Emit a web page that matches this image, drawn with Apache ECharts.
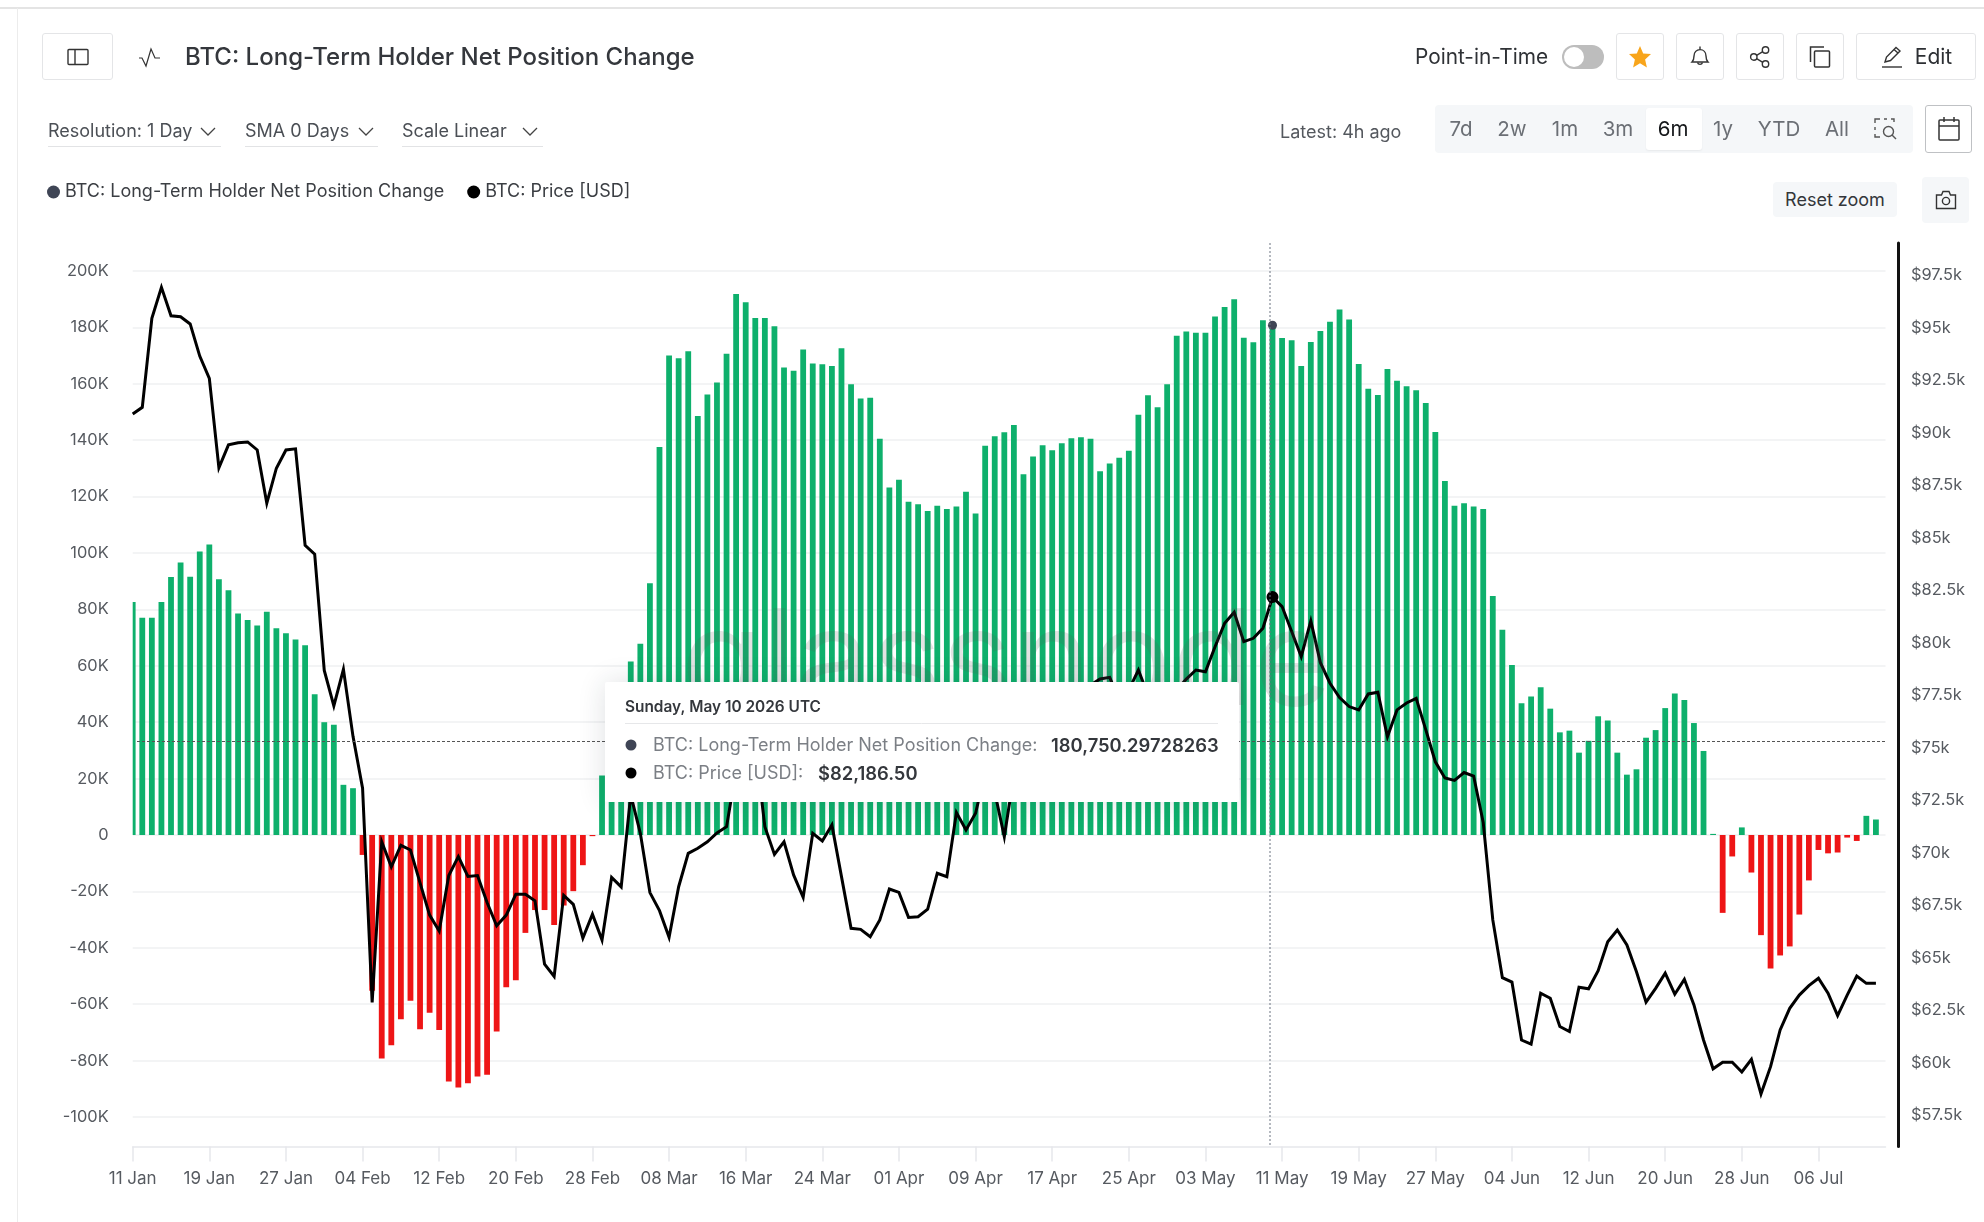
<!DOCTYPE html>
<html>
<head>
<meta charset="utf-8">
<title>BTC: Long-Term Holder Net Position Change</title>
<script src="https://cdn.jsdelivr.net/npm/echarts@6/dist/echarts.min.js"></script>
<style>
  html, body { margin: 0; padding: 0; background: #fff; width: 1984px; height: 1222px; overflow: hidden; }
  body { font-family: Inter, "Noto Sans", sans-serif; color: #333; position: relative; }
  #chart { position: absolute; left: 0; top: 0; width: 1984px; height: 1222px; }
  .abs { position: absolute; white-space: nowrap; }
  .btn { position: absolute; box-sizing: border-box; border: 1px solid #e4e5e7; border-radius: 3px; top: 33px; height: 47px; display: flex; align-items: center; justify-content: center; background: #fff; }
  .sel { position: absolute; top: 119px; font-size: 18px; line-height: 24px; color: #4b4f55; box-sizing: border-box; height: 28px; border-bottom: 1px solid #e2e3e5; }
  .chev { position: absolute; top: 8px; }
  .seg { position: absolute; top: 117px; font-size: 20.5px; line-height: 24px; color: #6b6f75; transform: translateX(-50%); }
  svg { display: block; }
</style>
</head>
<body>
<div id="chart"></div>

<div class="abs" style="left:0;top:7px;width:1984px;height:2px;background:#e4e4e4"></div>
<div class="abs" style="left:17px;top:8px;width:1px;height:1214px;background:#ececec"></div>

<div class="btn" style="left:42px;width:71px">
  <svg width="22" height="18" viewBox="0 0 22 18" fill="none" stroke="#333" stroke-width="1.4"><rect x="1" y="1.5" width="20" height="15" rx="1"/><line x1="8" y1="1.5" x2="8" y2="16.5"/></svg>
</div>
<svg class="abs" style="left:138px;top:46px" width="24" height="22" viewBox="0 0 24 22" fill="none" stroke="#333" stroke-width="1.2"><polyline points="1,12 4,12 8,20 13,3 17,12 22,12"/></svg>
<div class="abs" style="left:185px;top:41px;font-size:24px;line-height:32px;font-weight:500;color:#34373c">BTC: Long-Term Holder Net Position Change</div>

<div class="sel" style="left:48px;width:173px">Resolution: 1 Day
  <svg class="chev" style="left:152px" width="16" height="10" viewBox="0 0 16 10" fill="none" stroke="#444" stroke-width="1.3"><polyline points="1,1 8,8 15,1"/></svg></div>
<div class="sel" style="left:245px;width:133px">SMA 0 Days
  <svg class="chev" style="left:113px" width="16" height="10" viewBox="0 0 16 10" fill="none" stroke="#444" stroke-width="1.3"><polyline points="1,1 8,8 15,1"/></svg></div>
<div class="sel" style="left:402px;width:141px">Scale Linear
  <svg class="chev" style="left:120px" width="16" height="10" viewBox="0 0 16 10" fill="none" stroke="#444" stroke-width="1.3"><polyline points="1,1 8,8 15,1"/></svg></div>

<div class="abs" style="left:1280px;top:120px;font-size:18px;line-height:24px;color:#54585e">Latest: 4h ago</div>

<div class="abs" style="left:1415px;top:45px;font-size:20.8px;line-height:24px;color:#2f3236">Point-in-Time</div>
<div class="abs" style="left:1562px;top:45px;width:42px;height:24px;border-radius:12px;background:#bdbdbd"></div>
<div class="abs" style="left:1564px;top:47px;width:20px;height:20px;border-radius:10px;background:#fff"></div>

<div class="btn" style="left:1616px;width:48px">
  <svg width="24" height="24" viewBox="0 0 24 24"><polygon fill="#f8a51b" points="12,1 15.2,8.4 23,9.1 17.1,14.4 18.9,22.4 12,18.2 5.1,22.4 6.9,14.4 1,9.1 8.8,8.4"/></svg>
</div>
<div class="btn" style="left:1676px;width:48px">
  <svg width="22" height="24" viewBox="0 0 22 24" fill="none" stroke="#333" stroke-width="1.4"><path d="M3 17c1.6-1.6 2-3.2 2-6 0-3.8 2.5-6.4 6-6.4s6 2.6 6 6.4c0 2.8.4 4.4 2 6z"/><line x1="11" y1="1.5" x2="11" y2="4.6"/><path d="M8.5 17.5a2.6 2.6 0 0 0 5 0"/></svg>
</div>
<div class="btn" style="left:1736px;width:48px">
  <svg width="22" height="24" viewBox="0 0 22 24" fill="none" stroke="#333" stroke-width="1.4"><circle cx="16.5" cy="5" r="3.2"/><circle cx="16.5" cy="19" r="3.2"/><circle cx="4.8" cy="12" r="3.2"/><line x1="7.6" y1="10.4" x2="13.8" y2="6.6"/><line x1="7.6" y1="13.6" x2="13.8" y2="17.4"/></svg>
</div>
<div class="btn" style="left:1796px;width:48px">
  <svg width="24" height="24" viewBox="0 0 24 24" fill="none" stroke="#333" stroke-width="1.5"><rect x="6.5" y="6" width="15" height="16" rx="1"/><polyline points="2.5,17 2.5,2 16,2"/></svg>
</div>
<div class="btn" style="left:1856px;width:120px">
  <svg style="margin-right:11px" width="24" height="24" viewBox="0 0 24 24" fill="none" stroke="#333" stroke-width="1.4"><path d="M5 17l1.5-5L16 2.5l4 3.5-9.5 9.5z"/><line x1="14" y1="4.5" x2="18" y2="8"/><line x1="2" y1="22" x2="22" y2="22"/></svg>
  <span style="font-size:21px;color:#2c2f33">Edit</span>
</div>

<div class="abs" style="left:1435px;top:105px;width:478px;height:48px;background:#f5f7f9;border-radius:4px"></div>
<div class="abs" style="left:1646px;top:108px;width:56px;height:42px;background:#fff;border-radius:3px;box-shadow:0 1px 2px rgba(0,0,0,.06)"></div>
<div class="seg" style="left:1461px">7d</div>
<div class="seg" style="left:1512px">2w</div>
<div class="seg" style="left:1565px">1m</div>
<div class="seg" style="left:1618px">3m</div>
<div class="seg" style="left:1673px;color:#15171a">6m</div>
<div class="seg" style="left:1723px">1y</div>
<div class="seg" style="left:1779px">YTD</div>
<div class="seg" style="left:1837px">All</div>
<svg class="abs" style="left:1874px;top:117px" width="24" height="24" viewBox="0 0 24 24" fill="none" stroke="#555" stroke-width="1.4"><path d="M1 6V2h5M10 2h3M17 2h3v3M1 10v3M1 17v3h5"/><circle cx="14.5" cy="14.5" r="5"/><line x1="18" y1="18" x2="22" y2="22"/></svg>

<div class="abs" style="left:1925px;top:105px;width:47px;height:48px;box-sizing:border-box;border:1px solid #bfc1c4;border-radius:3px;display:flex;align-items:center;justify-content:center">
  <svg width="24" height="26" viewBox="0 0 24 26" fill="none" stroke="#333" stroke-width="1.5"><rect x="2" y="4" width="20" height="20" rx="1"/><line x1="2" y1="10" x2="22" y2="10"/><line x1="7" y1="1" x2="7" y2="6"/><line x1="17" y1="1" x2="17" y2="6"/></svg>
</div>

<div class="abs" style="left:1773px;top:182px;width:124px;height:35px;background:#f5f7f9;border-radius:4px;font-size:18px;line-height:35px;text-align:center;color:#33363a">Reset zoom</div>
<div class="abs" style="left:1922px;top:177px;width:47px;height:46px;background:#f5f7f9;border-radius:4px;display:flex;align-items:center;justify-content:center">
  <svg width="22" height="20" viewBox="0 0 22 20" fill="none" stroke="#333" stroke-width="1.4"><path d="M1.5 5h5l1.5-3.5h6L15.5 5h5v13.5h-19z"/><circle cx="11" cy="11" r="3.6"/></svg>
</div>

<script>
// Daily long-term holder net position change, in BTC, from 11 Jan
const netPositionChange = [
  82600, 77000, 77000, 82600, 91500, 96600, 91600, 100500, 103000, 90700,
  86800, 78500, 76200, 74300, 79200, 73300, 71500, 69300, 67300, 49900,
  40000, 39100, 17800, 16600, -7060, -55200, -79200, -74500, -65300, -58800,
  -68900, -63000, -69100, -87400, -89500, -88000, -85600, -85000, -69700, -54000,
  -51500, -34700, -26600, -26600, -31900, -25000, -19900, -10700, -400, 21100,
  32000, 47000, 61500, 67800, 89300, 137600, 170000, 169000, 171500, 148600,
  156200, 160400, 170600, 191800, 188900, 183300, 183300, 180400, 165800, 164600,
  172100, 167200, 166900, 166300, 172600, 159800, 154800, 155000, 140500, 123200,
  126000, 118200, 117300, 114900, 116700, 115600, 116500, 121700, 114000, 138000,
  141400, 142800, 145400, 127900, 134200, 138200, 136400, 138900, 140700, 141000,
  140500, 129000, 131700, 133800, 136200, 149000, 155900, 151700, 159800, 177000,
  178500, 178100, 178100, 183800, 187200, 190000, 176300, 174700, 182500, 180750.29728263,
  176200, 175400, 166300, 174800, 178700, 182000, 186300, 182800, 167000, 158200,
  156000, 165200, 161100, 159100, 157700, 153200, 142900, 125500, 116700, 117600,
  116500, 115600, 84700, 72800, 60300, 46700, 49100, 52400, 44800, 36400,
  37000, 29200, 33400, 42100, 40600, 29200, 21400, 23300, 34500, 37200,
  45000, 50200, 47900, 39700, 29800, 400, -27600, -7600, 2700, -13300,
  -35500, -47300, -42700, -39500, -28200, -16100, -5300, -6500, -6200, -900,
  -2100, 6800, 5500
];

// Daily BTC close in USD over the same days
const priceUsd = [
  90900, 91220, 95460, 96930, 95580, 95530, 95190, 93660, 92600, 88340,
  89430, 89530, 89570, 89190, 86650, 88320, 89190, 89240, 84650, 84230,
  78690, 77000, 78740, 75550, 73080, 62880, 70530, 69340, 70360, 70140,
  68570, 67040, 66280, 68920, 69820, 68880, 68920, 67640, 66530, 67040,
  68030, 68030, 67720, 64700, 64120, 67980, 67550, 65940, 67080, 65850,
  68830, 68380, 72760, 70930, 68110, 67250, 65980, 68390, 69980, 70220,
  70530, 70950, 71250, 73950, 76810, 75140, 71250, 69930, 70530, 68950,
  67890, 70930, 70570, 71330, 68870, 66410, 66360, 66010, 66810, 68280,
  68120, 66930, 66960, 67320, 69030, 68870, 71920, 71090, 71890, 73850,
  72900, 70770, 73710, 75380, 76570, 77280, 77040, 76330, 77280, 77760,
  78000, 78280, 78360, 77280, 77760, 78710, 77520, 77040, 77040, 77760,
  78280, 78710, 78630, 79820, 80930, 81460, 80060, 80220, 80700, 82186.5,
  81730, 80540, 79350, 81050, 79060, 78080, 77400, 76970, 76810, 77570,
  77650, 75530, 76810, 77140, 77360, 75870, 74340, 73570, 73450, 73830,
  73660, 71450, 66810, 64060, 63850, 61090, 60890, 63320, 63080, 61730,
  61490, 63600, 63530, 64390, 65770, 66330, 65620, 64340, 62890, 63550,
  64270, 63270, 63980, 62760, 61090, 59720, 60030, 60030, 59570, 60170,
  58520, 59820, 61570, 62600, 63230, 63680, 64030, 63320, 62250, 63230,
  64140, 63790, 63790
];

// Tick labels on the two value axes
const holderTicks = [-100000, -80000, -60000, -40000, -20000, 0, 20000, 40000, 60000, 80000, 100000, 120000, 140000, 160000, 180000, 200000];
const priceTicks = [57500, 60000, 62500, 65000, 67500, 70000, 72500, 75000, 77500, 80000, 82500, 85000, 87500, 90000, 92500, 95000, 97500];

// One category per day, 11 Jan to 13 Jul, the last one left empty
const monthSpans = [['Jan', 11, 31], ['Feb', 1, 28], ['Mar', 1, 31], ['Apr', 1, 30], ['May', 1, 31], ['Jun', 1, 30], ['Jul', 1, 13]];
const days = [];
monthSpans.forEach(([name, first, last]) => {
  for (let d = first; d <= last; d++) days.push(String(d).padStart(2, '0') + ' ' + name);
});

const HOVER_INDEX = days.indexOf('10 May');
const GREEN = '#0eb06c', RED = '#ee1516', SLATE = '#3f4555', TEXT = '#565a60';
const FONT = 'Inter, "Noto Sans", sans-serif';

const chart = echarts.init(document.getElementById('chart'), null, { renderer: 'canvas' });

// Watermark, crosshair and readout box drawn over the plot
function overlays() {
  const text = (s, x, y, font, fill, z) => ({
    type: 'text', silent: true, z: z || 102,
    style: { text: s, x, y, font, fill, verticalAlign: 'middle', textVerticalAlign: 'middle' }
  });
  const dot = (cx, cy, fill) => ({ type: 'circle', silent: true, z: 102, shape: { cx, cy, r: 5.5 }, style: { fill } });
  return [
    // The first day's bar sits on the plot edge and shows only its right half
    { type: 'rect', silent: true, z: 10, shape: { x: 124, y: 560, width: 8.7, height: 276 }, style: { fill: '#fff' } },
    text('glassnode', 681, 665, `400 134px ${FONT}`, 'rgba(90,90,90,0.17)', 30),
    { type: 'line', silent: true, z: 40, shape: { x1: 1270, y1: 243, x2: 1270, y2: 1146 }, style: { stroke: '#6b7280', lineWidth: 1, lineDash: [2, 2] } },
    { type: 'line', silent: true, z: 40, shape: { x1: 137, y1: 741.5, x2: 1886, y2: 741.5 }, style: { stroke: '#555', lineWidth: 1, lineDash: [3, 2] } },
    { type: 'rect', silent: true, z: 100, shape: { x: 605, y: 682, width: 634, height: 120, r: 2 }, style: { fill: '#fff', shadowBlur: 28, shadowColor: 'rgba(30,40,60,0.14)' } },
    text('Sunday, May 10 2026 UTC', 625, 707, `600 15.4px ${FONT}`, '#34373c'),
    { type: 'line', silent: true, z: 101, shape: { x1: 625, y1: 723.5, x2: 1218, y2: 723.5 }, style: { stroke: '#e6e7e9', lineWidth: 1 } },
    dot(631, 745, SLATE),
    text('BTC: Long-Term Holder Net Position Change:', 653, 746, `400 18px ${FONT}`, '#7b7f85'),
    text('180,750.29728263', 1051, 746, `600 18.4px ${FONT}`, '#34373c'),
    dot(631, 773, '#000'),
    text('BTC: Price [USD]:', 653, 774, `400 18px ${FONT}`, '#7b7f85'),
    text('$82,186.50', 818, 774, `600 18.4px ${FONT}`, '#34373c')
  ];
}

chart.setOption({
  animation: false,
  textStyle: { fontFamily: FONT },
  grid: { left: 132.7, right: 98.5, top: 243, bottom: 75.6, containLabel: false },
  legend: {
    left: 47, top: 183, padding: 0, itemGap: 23, itemWidth: 13, itemHeight: 13, icon: 'circle',
    textStyle: { fontSize: 18, color: '#3b3e43', fontFamily: FONT },
    data: ['BTC: Long-Term Holder Net Position Change', 'BTC: Price [USD]']
  },
  xAxis: {
    type: 'category', data: days, boundaryGap: false,
    axisLine: { onZero: false, lineStyle: { color: '#e6e8eb', width: 1.5 } },
    axisTick: { show: true, interval: 7, length: 15, lineStyle: { color: '#e6e8eb', width: 1.5 } },
    axisLabel: { interval: 7, margin: 24, fontSize: 17, color: TEXT, fontFamily: FONT, hideOverlap: false },
    splitLine: { show: false }
  },
  yAxis: [
    {
      type: 'value', min: -110400, max: 209900, position: 'left',
      axisLine: { show: false }, axisTick: { show: false, customValues: holderTicks },
      axisLabel: { customValues: holderTicks, margin: 24, fontSize: 16.4, color: TEXT, fontFamily: FONT, formatter: v => (v === 0 ? '0' : v / 1000 + 'K') },
      splitLine: { show: true, lineStyle: { color: '#eff0f2', width: 1.5 } }
    },
    {
      type: 'value', min: 56024, max: 99044, position: 'right', offset: 12.5,
      axisLine: { show: true, onZero: false, lineStyle: { color: '#111', width: 3 } },
      axisTick: { show: false, customValues: priceTicks },
      axisLabel: { customValues: priceTicks, margin: 13, fontSize: 16.4, color: TEXT, fontFamily: FONT, formatter: v => '$' + v / 1000 + 'k' },
      splitLine: { show: false }
    }
  ],
  graphic: { elements: overlays() },
  series: [
    {
      name: 'BTC: Long-Term Holder Net Position Change', type: 'bar', yAxisIndex: 0, barWidth: 5.8,
      itemStyle: { color: SLATE },
      data: netPositionChange.map(v => ({ value: v, itemStyle: { color: v >= 0 ? GREEN : RED } })),
      markPoint: {
        silent: true, symbol: 'circle', symbolSize: 9, itemStyle: { color: SLATE }, label: { show: false },
        data: [{ coord: [HOVER_INDEX, netPositionChange[HOVER_INDEX]] }]
      }
    },
    {
      name: 'BTC: Price [USD]', type: 'line', yAxisIndex: 1, data: priceUsd, showSymbol: false, symbol: 'none',
      lineStyle: { color: '#000', width: 3, join: 'miter' }, itemStyle: { color: '#000' },
      markPoint: {
        silent: true, symbol: 'circle', symbolSize: 12, itemStyle: { color: '#000' }, label: { show: false },
        data: [{ coord: [HOVER_INDEX, priceUsd[HOVER_INDEX]] }]
      }
    }
  ]
});
</script>
</body>
</html>
